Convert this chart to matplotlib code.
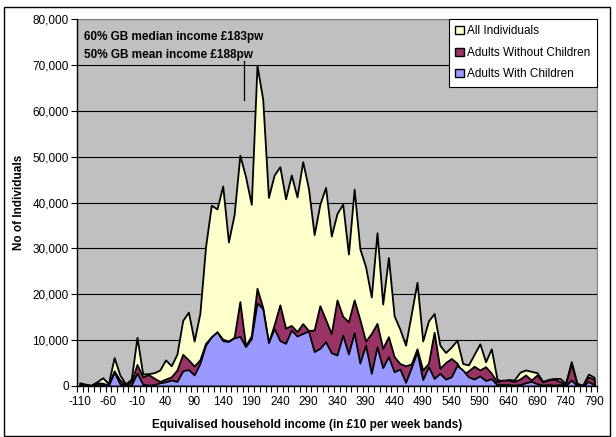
import matplotlib
matplotlib.use("Agg")
import matplotlib.pyplot as plt
from matplotlib.patches import Patch, Rectangle
import numpy as np

plt.rcParams['font.family'] = ['Liberation Sans', 'DejaVu Sans']

# income bands (£10 per week bands)
bands = list(range(-110, 791, 10))

all_individuals = [
    700, 400, 200, 950, 1800, 500, 6200, 2400, 450, 1500,
    10600, 2600, 2700, 2900, 3500, 5700, 4400, 7000, 14300, 16100,
    9800, 15800, 30400, 39400, 38600, 43600, 31400, 37400, 50300, 45600,
    39600, 69900, 62500, 41100, 46000, 47800, 40800, 46000, 41200, 48900,
    43100, 33000, 39600, 43300, 32700, 37600, 39650, 28750, 42900, 29900,
    26000, 19400, 33400, 17850, 28000, 15300, 12400, 8900, 15750, 22600,
    9800, 14200, 15800, 8900, 7300, 8500, 10000, 4900, 4600, 6900,
    9200, 5300, 8100, 1500, 950, 1400, 1300, 3000, 3500, 3200,
    2900, 1000, 1450, 1650, 1650, 600, 5300, 600, 200, 2600,
    1900]

adults_without_children = [
    600, 200, 100, 700, 600, 200, 3300, 1300, 200, 950,
    4700, 2000, 2500, 1700, 1000, 1500, 2000, 3500, 6900, 5700,
    4350, 5700, 9300, 10700, 11800, 10200, 9800, 10600, 18400, 8800,
    10900, 21300, 17100, 9500, 13300, 17700, 12600, 13200, 11850, 13600,
    12100, 12200, 17500, 14500, 11400, 18750, 15200, 14000, 18750, 14500,
    9800, 11450, 13650, 8200, 10750, 6400, 4900, 4400, 4800, 8100,
    3500, 4950, 11700, 3850, 5100, 6000, 5000, 2500, 3300, 4300,
    3500, 4200, 2800, 900, 1300, 1300, 1000, 1500, 2400, 1300,
    2400, 900, 1300, 1500, 1000, 300, 4950, 300, 100, 2000,
    1450]

adults_with_children = [
    100, 0, 0, 300, 200, 100, 3000, 500, 0, 200,
    2800, 400, 200, 300, 700, 900, 1300, 1000, 3300, 3600,
    2400, 4900, 8900, 10700, 11800, 9900, 9700, 10500, 10800, 8600,
    10300, 18100, 16900, 9450, 12550, 9900, 9300, 12200, 10900, 11450,
    12000, 7500, 8200, 9650, 7250, 6750, 11100, 7000, 11600, 5000,
    8900, 2750, 8550, 4000, 6400, 3100, 3700, 800, 4000, 7500,
    1400, 4200, 1650, 2750, 1500, 2000, 4500, 3500, 2000, 1500,
    2200, 1200, 1600, 300, 300, 300, 200, 300, 700, 1000,
    500, 200, 300, 200, 300, 100, 1300, 100, 0, 950,
    300]

series_names = ["All Individuals", "Adults Without Children", "Adults With Children"]
series_colors = ["#FFFFCC", "#993366", "#9999FF"]

annot_lines = ["60% GB median income £183pw", "50% GB mean income £188pw"]
marker_pos = 28.7   # category position of the marker line

FS = 8.5
W, H = 616, 437
fig = plt.figure(figsize=(W / 100, H / 100), dpi=100)
fig.patch.set_facecolor("white")
ax = fig.add_axes([77 / W, 1 - 386 / H, (597 - 77) / W, (386 - 19) / H])
ax.set_facecolor("#C0C0C0")

x = np.arange(len(bands))
for vals, col in zip([all_individuals, adults_without_children, adults_with_children], series_colors):
    ax.fill_between(x, 0, vals, facecolor=col, edgecolor="black", linewidth=1.3, zorder=2)

ax.set_xlim(-0.5, len(bands) - 0.5)
ax.set_ylim(0, 80000)
ax.set_yticks(np.arange(0, 80001, 10000))
ax.set_yticklabels([f"{v:,}" for v in range(0, 80001, 10000)], fontsize=FS)
ax.yaxis.grid(True, color="black", linewidth=0.8, zorder=1)
ax.set_axisbelow(True)

ax.set_xticks(x[::5])
ax.set_xticklabels([str(b) for b in bands[::5]], fontsize=FS)
ax.set_xticks(np.arange(-0.5, len(bands), 1), minor=True)
ax.tick_params(axis="x", which="major", length=0, pad=7)
ax.tick_params(axis="x", which="minor", length=4, width=0.8, direction="out")
ax.tick_params(axis="y", which="major", length=4, width=0.8, direction="out", pad=2)

for s in ["top", "right"]:
    ax.spines[s].set_color("#808080")
    ax.spines[s].set_linewidth(0.8)
for s in ["left", "bottom"]:
    ax.spines[s].set_color("black")
    ax.spines[s].set_linewidth(1.0)
    ax.spines[s].set_zorder(3)

fig.text(307 / W, 1 - 425 / H, "Equivalised household income (in £10 per week bands)",
         fontsize=FS, fontweight="bold", ha="center", va="center")
ax.set_ylabel("No of Individuals", fontsize=FS, fontweight="bold", labelpad=5)

# annotation
fig.text(84 / W, 1 - 37 / H, annot_lines[0], fontsize=FS, fontweight="bold", va="center", ha="left")
fig.text(84 / W, 1 - 55 / H, annot_lines[1], fontsize=FS, fontweight="bold", va="center", ha="left")
ax.plot([marker_pos, marker_pos], [62300, 70800], color="black", linewidth=0.9, zorder=4)

handles = [Patch(facecolor=c, edgecolor="black", linewidth=1.0) for c in series_colors]
leg = ax.legend(handles, series_names, loc="upper right", bbox_to_anchor=(1, 1),
                borderaxespad=0, fontsize=FS, frameon=True, fancybox=False,
                handlelength=0.7, handleheight=0.7, handletextpad=0.3,
                labelspacing=0.8, borderpad=0.55)
leg.get_frame().set_edgecolor("black")
leg.get_frame().set_linewidth(0.8)
leg.get_frame().set_facecolor("white")
leg.get_frame().set_alpha(1)

# outer chart border
fig.patches.append(Rectangle((4 / W, 1 / H), 606 / W, (430 - 1) / H, transform=fig.transFigure,
                             fill=False, edgecolor="black", linewidth=1.0))

fig.savefig("out.png", dpi=100)
